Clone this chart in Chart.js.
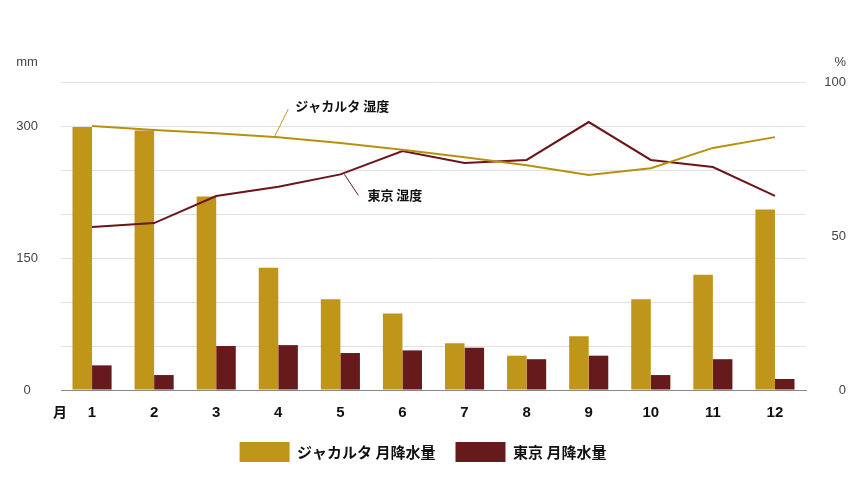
<!DOCTYPE html>
<html>
<head>
<meta charset="utf-8">
<script src="https://cdn.jsdelivr.net/npm/chart.js@4"></script>
<style>
  html, body { margin: 0; padding: 0; background: #fff; }
  canvas { display: block; }
</style>
</head>
<body>
<canvas id="rainChart" width="860" height="484"></canvas>
<script>
// data
const months = ["1", "2", "3", "4", "5", "6", "7", "8", "9", "10", "11", "12"];
const jakartaRain = [299, 295, 220, 139, 103, 87, 53, 39, 61, 103, 131, 205];
const tokyoRain = [28, 17, 50, 51, 42, 45, 48, 35, 39, 17, 35, 12.5];
const jakartaHumidity = [85.7, 84.4, 83.4, 82.1, 80.2, 78, 75.6, 73, 69.8, 72, 78.6, 82.1];
const tokyoHumidity = [52.9, 54.2, 63, 66, 70, 77.6, 73.7, 74.7, 87, 74.7, 72.4, 63];
const mmLabels = [0, 150, 300];
const pctLabels = [0, 50, 100];

const gold = "#c0961a";
const maroon = "#661a1b";
const cjk = '"Noto Sans CJK JP", sans-serif';
const latin = '"Liberation Sans", Arial, sans-serif';
const legendGap = 20;

// extra texts: axis units, month label, line annotations
const extras = {
  id: "extras",
  afterDraw(chart) {
    const ctx = chart.ctx;
    ctx.save();
    ctx.font = "13px " + latin;
    ctx.fillStyle = "#444";
    ctx.textBaseline = "middle";
    ctx.textAlign = "center";
    ctx.fillText("mm", 27, 62);
    ctx.textAlign = "right";
    ctx.fillText("%", 846, 62);

    ctx.font = "bold 14px " + cjk;
    ctx.fillStyle = "#111";
    ctx.textAlign = "center";
    ctx.fillText("月", 60, 412);

    // Jakarta humidity label
    const pj = chart.getDatasetMeta(2).data[3];
    ctx.strokeStyle = gold;
    ctx.lineWidth = 1;
    ctx.beginPath();
    ctx.moveTo(pj.x - 4, pj.y);
    ctx.lineTo(pj.x + 10, pj.y - 28);
    ctx.stroke();
    ctx.font = "bold 13px " + cjk;
    ctx.textAlign = "left";
    ctx.fillStyle = "#111";
    ctx.fillText("ジャカルタ 湿度", pj.x + 17, pj.y - 31);

    // Tokyo humidity label
    const pt = chart.getDatasetMeta(3).data[4];
    ctx.strokeStyle = maroon;
    ctx.beginPath();
    ctx.moveTo(pt.x + 4, pt.y);
    ctx.lineTo(pt.x + 18, pt.y + 21);
    ctx.stroke();
    ctx.fillText("東京 湿度", pt.x + 27, pt.y + 21);
    ctx.restore();
  }
};

const ctx = document.getElementById("rainChart").getContext("2d");
new Chart(ctx, {
  type: "bar",
  data: {
    labels: months,
    datasets: [
      { label: "ジャカルタ 月降水量", data: jakartaRain, backgroundColor: gold, yAxisID: "y", order: 2 },
      { label: "東京 月降水量", data: tokyoRain, backgroundColor: maroon, yAxisID: "y", order: 2 },
      { type: "line", label: "ジャカルタ 湿度", data: jakartaHumidity, borderColor: "#b8900f", borderWidth: 2,
        pointRadius: 0, tension: 0, yAxisID: "y2", order: 1 },
      { type: "line", label: "東京 湿度", data: tokyoHumidity, borderColor: "#6e1418", borderWidth: 2,
        pointRadius: 0, tension: 0, yAxisID: "y2", order: 1 }
    ]
  },
  options: {
    responsive: false,
    animation: false,
    layout: { padding: { top: 82, right: 14, bottom: 12, left: 0 } },
    datasets: { bar: { barPercentage: 1, categoryPercentage: 0.63 } },
    plugins: {
      tooltip: { enabled: false },
      legend: {
        position: "bottom",
        labels: {
          boxWidth: 50,
          boxHeight: 20,
          padding: legendGap,
          color: "#111",
          font: { family: cjk, size: 15, weight: "bold" },
          filter: item => item.datasetIndex < 2
        }
      }
    },
    scales: {
      x: {
        grid: { display: false, drawTicks: false },
        border: { color: "#888", width: 1 },
        ticks: { color: "#111", font: { family: latin, size: 15, weight: "bold" }, padding: 14 },
        // taller legend -> shorter axis box, plot bottom stays at 390 (labels clip to this box)
        afterFit: s => { s.height = 52 - legendGap; }
      },
      y: {
        position: "left",
        min: 0,
        max: 350,
        grid: { color: "#e2e2e2", drawTicks: false },
        border: { display: false },
        ticks: {
          stepSize: 50,
          padding: 23,
          crossAlign: "center",
          color: "#444",
          font: { family: latin, size: 13 },
          callback: v => mmLabels.includes(v) ? v : ""
        },
        afterFit: s => { s.width = 61; }
      },
      y2: {
        position: "right",
        min: 0,
        max: 100,
        grid: { display: false, drawTicks: false },
        border: { display: false },
        ticks: {
          stepSize: 50,
          crossAlign: "far",
          color: "#444",
          font: { family: latin, size: 13 },
          callback: v => pctLabels.includes(v) ? v : ""
        },
        afterFit: s => { s.width = 40; }
      }
    }
  },
  plugins: [extras]
});
</script>
</body>
</html>
